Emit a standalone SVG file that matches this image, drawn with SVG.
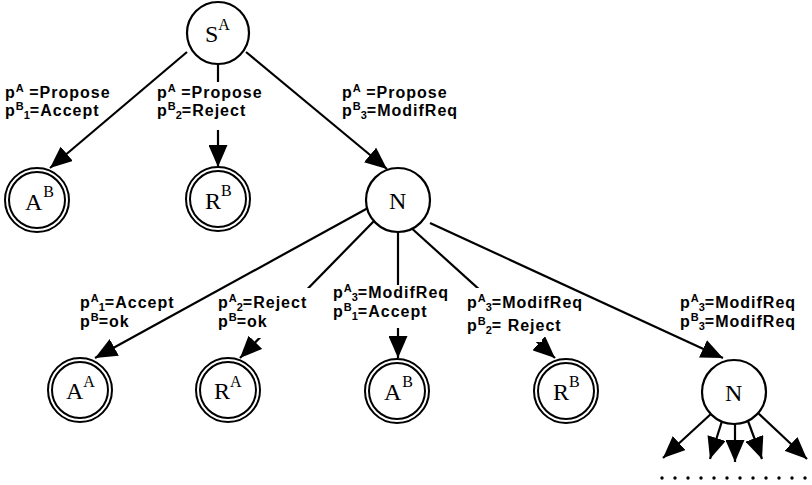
<svg xmlns="http://www.w3.org/2000/svg" width="812" height="485" viewBox="0 0 812 485">
<style>
.ln{stroke:#000;stroke-width:2.2;fill:none}
.nd{fill:#fff;stroke:#000;stroke-width:2.2}
.dbl{fill:#fff;stroke:#000;stroke-width:2}
.nt{font-family:"Liberation Serif","Times New Roman",serif;font-size:24px;fill:#000}
.ns{font-size:16px}
.lb{font-family:"Liberation Sans",Arial,sans-serif;font-weight:bold;font-size:16px;letter-spacing:1px;fill:#000}
.s{font-size:11px;letter-spacing:0}
.bg{fill:#fff}
</style>
<defs>
<marker id="ah" markerUnits="userSpaceOnUse" viewBox="0 0 22 19" refX="22" refY="9.5" markerWidth="22" markerHeight="19" orient="auto">
<path d="M0,0 L22,9.5 L0,19 z" fill="#000"/>
</marker>
</defs>
<rect width="812" height="485" fill="#fff"/>
<g id="connectors">
<line class="ln" x1="187" y1="52" x2="50" y2="168" marker-end="url(#ah)"/>
<line class="ln" x1="218" y1="64" x2="218" y2="167" marker-end="url(#ah)"/>
<line class="ln" x1="246" y1="52" x2="387" y2="169" marker-end="url(#ah)"/>
<line class="ln" x1="368" y1="208" x2="95" y2="358" marker-end="url(#ah)"/>
<line class="ln" x1="375" y1="220" x2="240" y2="358" marker-end="url(#ah)"/>
<line class="ln" x1="398" y1="232" x2="398" y2="358" marker-end="url(#ah)"/>
<line class="ln" x1="408" y1="225" x2="555" y2="358" marker-end="url(#ah)"/>
<line class="ln" x1="430" y1="223" x2="723" y2="358" marker-end="url(#ah)"/>
<line class="ln" x1="712" y1="413" x2="663" y2="458" marker-end="url(#ah)"/>
<line class="ln" x1="722" y1="421" x2="710" y2="459" marker-end="url(#ah)"/>
<line class="ln" x1="735" y1="424" x2="735" y2="462" marker-end="url(#ah)"/>
<line class="ln" x1="748" y1="421" x2="762" y2="459" marker-end="url(#ah)"/>
<line class="ln" x1="758" y1="413" x2="807" y2="459" marker-end="url(#ah)"/>
<rect class="bg" x="205" y="82" width="26" height="48"/>
<rect class="bg" x="252" y="288" width="68" height="50"/>
<rect class="bg" x="386" y="285" width="24" height="43"/>
<rect class="bg" x="470" y="288" width="72" height="54"/>
<text class="lb" x="5" y="98">p<tspan class="s" dy="-6">A</tspan><tspan dy="6"> =Propose</tspan></text>
<text class="lb" x="5" y="116">p<tspan class="s" dy="-6">B</tspan><tspan class="s" dy="9">1</tspan><tspan dy="-3">=Accept</tspan></text>
<text class="lb" x="157" y="98">p<tspan class="s" dy="-6">A</tspan><tspan dy="6"> =Propose</tspan></text>
<text class="lb" x="157" y="116">p<tspan class="s" dy="-6">B</tspan><tspan class="s" dy="9">2</tspan><tspan dy="-3">=Reject</tspan></text>
<text class="lb" x="342" y="98">p<tspan class="s" dy="-6">A</tspan><tspan dy="6"> =Propose</tspan></text>
<text class="lb" x="342" y="116">p<tspan class="s" dy="-6">B</tspan><tspan class="s" dy="9">3</tspan><tspan dy="-3">=ModifReq</tspan></text>
<text class="lb" x="80" y="308">p<tspan class="s" dy="-6">A</tspan><tspan class="s" dy="9">1</tspan><tspan dy="-3">=Accept</tspan></text>
<text class="lb" x="80" y="327">p<tspan class="s" dy="-6">B</tspan><tspan dy="6">=ok</tspan></text>
<text class="lb" x="218" y="308">p<tspan class="s" dy="-6">A</tspan><tspan class="s" dy="9">2</tspan><tspan dy="-3">=Reject</tspan></text>
<text class="lb" x="218" y="327">p<tspan class="s" dy="-6">B</tspan><tspan dy="6">=ok</tspan></text>
<text class="lb" x="333" y="298">p<tspan class="s" dy="-6">A</tspan><tspan class="s" dy="9">3</tspan><tspan dy="-3">=ModifReq</tspan></text>
<text class="lb" x="333" y="317">p<tspan class="s" dy="-6">B</tspan><tspan class="s" dy="9">1</tspan><tspan dy="-3">=Accept</tspan></text>
<text class="lb" x="467" y="308">p<tspan class="s" dy="-6">A</tspan><tspan class="s" dy="9">3</tspan><tspan dy="-3">=ModifReq</tspan></text>
<text class="lb" x="467" y="331">p<tspan class="s" dy="-6">B</tspan><tspan class="s" dy="9">2</tspan><tspan dy="-3">= Reject</tspan></text>
<text class="lb" x="680" y="308">p<tspan class="s" dy="-6">A</tspan><tspan class="s" dy="9">3</tspan><tspan dy="-3">=ModifReq</tspan></text>
<text class="lb" x="680" y="327">p<tspan class="s" dy="-6">B</tspan><tspan class="s" dy="9">3</tspan><tspan dy="-3">=ModifReq</tspan></text>
</g>
<g id="node-SA">
<circle class="nd" cx="218" cy="33" r="31"/>
<text class="nt" x="205" y="42">S<tspan class="ns" dy="-12">A</tspan></text>
</g>
<g id="node-AB-top">
<circle class="dbl" cx="37" cy="200" r="32"/>
<circle class="dbl" cx="37" cy="200" r="28"/>
<text class="nt" x="25" y="210">A<tspan class="ns" dx="1" dy="-13">B</tspan></text>
</g>
<g id="node-RB-top">
<circle class="dbl" cx="218" cy="199" r="32"/>
<circle class="dbl" cx="218" cy="199" r="28"/>
<text class="nt" x="205" y="209">R<tspan class="ns" dy="-13">B</tspan></text>
</g>
<g id="node-N">
<circle class="nd" cx="398" cy="200" r="32"/>
<text class="nt" x="389" y="209">N</text>
</g>
<g id="node-AA">
<circle class="dbl" cx="80" cy="390" r="32"/>
<circle class="dbl" cx="80" cy="390" r="28"/>
<text class="nt" x="66" y="399">A<tspan class="ns" dy="-12">A</tspan></text>
</g>
<g id="node-RA">
<circle class="dbl" cx="228" cy="390" r="32"/>
<circle class="dbl" cx="228" cy="390" r="28"/>
<text class="nt" x="214" y="399">R<tspan class="ns" dy="-12">A</tspan></text>
</g>
<g id="node-AB-bottom">
<circle class="dbl" cx="397" cy="391" r="32"/>
<circle class="dbl" cx="397" cy="391" r="28"/>
<text class="nt" x="384" y="400">A<tspan class="ns" dx="1" dy="-13">B</tspan></text>
</g>
<g id="node-RB-bottom">
<circle class="dbl" cx="566" cy="391" r="32"/>
<circle class="dbl" cx="566" cy="391" r="28"/>
<text class="nt" x="553" y="400">R<tspan class="ns" dy="-13">B</tspan></text>
</g>
<g id="node-N2">
<circle class="nd" cx="734" cy="392" r="32"/>
<text class="nt" x="725" y="401">N</text>
</g>
<g id="dots" fill="#000">
<circle cx="662" cy="478" r="1.7"/><circle cx="675" cy="478" r="1.7"/><circle cx="688" cy="478" r="1.7"/><circle cx="701" cy="478" r="1.7"/><circle cx="714" cy="478" r="1.7"/><circle cx="727" cy="478" r="1.7"/><circle cx="740" cy="478" r="1.7"/><circle cx="753" cy="478" r="1.7"/><circle cx="766" cy="478" r="1.7"/><circle cx="779" cy="478" r="1.7"/><circle cx="792" cy="478" r="1.7"/><circle cx="805" cy="478" r="1.7"/>
</g>
</svg>
